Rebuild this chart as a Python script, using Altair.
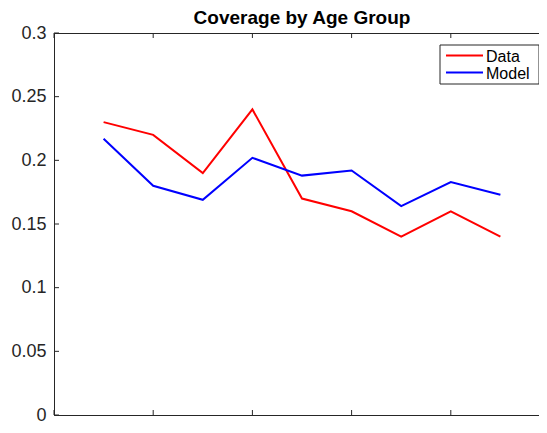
import altair as alt
import pandas as pd

# Data
x_vals = [1, 2, 3, 4, 5, 6, 7, 8, 9]
data_vals = [0.23, 0.22, 0.19, 0.24, 0.17, 0.16, 0.14, 0.16, 0.14]
model_vals = [0.217, 0.180, 0.169, 0.202, 0.188, 0.192, 0.164, 0.183, 0.173]
series_names = ["Data", "Model"]
series_colors = ["#ff0000", "#0000ff"]
x_ticks = [0, 2, 4, 6, 8, 10]
y_ticks = [0, 0.05, 0.1, 0.15, 0.2, 0.25, 0.3]

W, H = 496, 382
FONT = "Liberation Sans"
AXC = "#262626"

df = pd.DataFrame({
    "x": x_vals * 2,
    "value": data_vals + model_vals,
    "series": ["Data"] * len(x_vals) + ["Model"] * len(x_vals),
})
xt = pd.DataFrame({"v": x_ticks})
yt = pd.DataFrame({"v": y_ticks})
leg = pd.DataFrame({"series": series_names})

xscale = alt.Scale(domain=[0, 10], nice=False, zero=False)
yscale = alt.Scale(domain=[0, 0.3], nice=False)
cscale = alt.Scale(domain=series_names, range=series_colors)

xaxis = alt.Axis(title=None, labels=False, ticks=False, grid=False,
                 values=x_ticks, domainColor=AXC, domainWidth=1)
yaxis = alt.Axis(title=None, ticks=False, grid=False, values=y_ticks,
                 format="~g", labelFont=FONT, labelFontSize=18,
                 labelColor=AXC, labelPadding=8, domainColor=AXC,
                 domainWidth=1)

lines = alt.Chart(df).mark_line(strokeWidth=2, clip=True).encode(
    x=alt.X("x:Q", scale=xscale, axis=xaxis),
    y=alt.Y("value:Q", scale=yscale, axis=yaxis),
    color=alt.Color("series:N", scale=cscale, legend=None),
)

tick_l = alt.Chart(yt).mark_rule(color=AXC, strokeWidth=1).encode(
    y=alt.Y("v:Q", scale=yscale, axis=yaxis), x=alt.value(0), x2=alt.value(5))
tick_r = alt.Chart(yt).mark_rule(color=AXC, strokeWidth=1).encode(
    y=alt.Y("v:Q", scale=yscale, axis=yaxis), x=alt.value(W), x2=alt.value(W - 5))
tick_b = alt.Chart(xt).mark_rule(color=AXC, strokeWidth=1).encode(
    x=alt.X("v:Q", scale=xscale, axis=xaxis), y=alt.value(H), y2=alt.value(H - 5))
tick_t = alt.Chart(xt).mark_rule(color=AXC, strokeWidth=1).encode(
    x=alt.X("v:Q", scale=xscale, axis=xaxis), y=alt.value(0), y2=alt.value(5))

# Legend box (MATLAB style), drawn inside the plot at the top right
LX0, LX1, LY0, LY1 = 386, 485, 12, 51
ROW_Y = [22.5, 39.5]
legend_box = alt.Chart(pd.DataFrame({"k": [0]})).mark_rect(
    fill="white", stroke=AXC, strokeWidth=1).encode(
    x=alt.value(LX0), x2=alt.value(LX1), y=alt.value(LY0), y2=alt.value(LY1))
legend_layers = [legend_box]
for name, ry in zip(series_names, ROW_Y):
    sub = alt.Chart(leg).transform_filter(alt.datum.series == name)
    legend_layers.append(sub.mark_rule(strokeWidth=2).encode(
        x=alt.value(LX0 + 6), x2=alt.value(LX0 + 43), y=alt.value(ry),
        color=alt.Color("series:N", scale=cscale, legend=None)))
    legend_layers.append(sub.mark_text(
        align="left", baseline="middle", font=FONT, fontSize=16, color="black").encode(
        x=alt.value(LX0 + 46), y=alt.value(ry + 1), text="series:N"))

chart = alt.layer(lines, tick_l, tick_r, tick_b, tick_t, *legend_layers).properties(
    width=W, height=H,
    title=alt.Title("Coverage by Age Group", font=FONT, fontSize=19,
                    fontWeight="bold", color="black", anchor="middle", offset=-4),
    autosize=alt.AutoSizeParams(type="none"),
    padding={"left": 46, "top": 25, "right": -11, "bottom": 9},
    background="white",
).configure_view(
    stroke=AXC, strokeWidth=1
)

chart.save("out.html", embed_options={"renderer": "svg", "actions": False})
